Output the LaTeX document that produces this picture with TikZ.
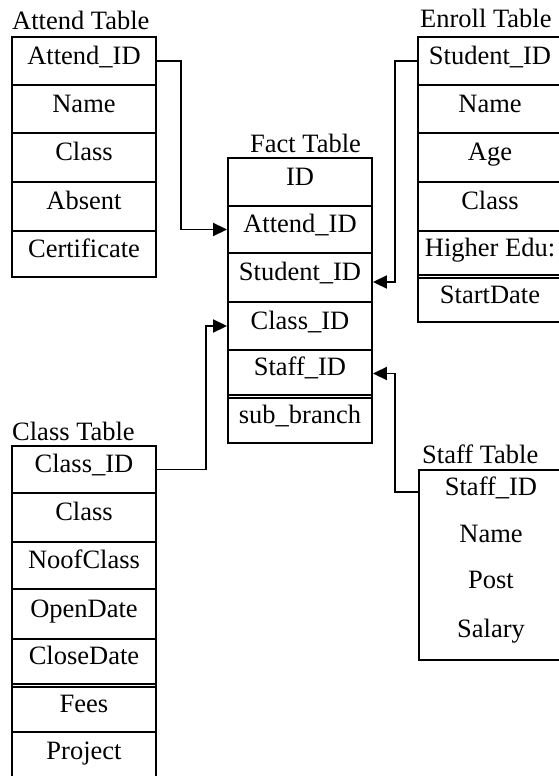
\documentclass[tikz,border=0pt]{standalone}
\usepackage{fontspec}
\setmainfont{Liberation Serif}
\usetikzlibrary{arrows.meta}
\tikzset{
  cell/.style={draw, line width=1.9pt, minimum width=144pt, inner sep=0pt, text height=15pt, text depth=9pt},
  plain/.style={minimum width=144pt, inner sep=0pt, text height=15pt, text depth=9pt},
  frame/.style={draw, line width=1.9pt},
  ttl/.style={anchor=base west, inner sep=0pt},
  link/.style={line width=1.9pt, -{Triangle[length=14pt,width=13pt]}}
}
\begin{document}
\begin{tikzpicture}[x=1pt,y=-1pt,font=\fontsize{26.5}{30}\selectfont]
\useasboundingbox (0,0) rectangle (559,776);
% Attend table
\node[ttl] (attT) at (12,30) {Attend Table};
\node[cell, minimum height=48pt] (a1) at (84,61) {Attend\_ID};
\node[cell, minimum height=48pt] (a2) at (84,109) {Name};
\node[cell, minimum height=49pt] (a3) at (84,157.5) {Class};
\node[cell, minimum height=49pt] (a4) at (84,206.5) {Absent};
\node[cell, minimum height=46pt] (a5) at (84,254) {Certificate};
% Fact table
\node[ttl] (facT) at (250,152) {Fact Table};
\node[cell, minimum height=48pt] (f1) at (300,182) {ID};
\node[cell, minimum height=47pt] (f2) at (300,229.5) {Attend\_ID};
\node[cell, minimum height=49pt] (f3) at (300,277.5) {Student\_ID};
\node[cell, minimum height=48pt] (f4) at (300,326) {Class\_ID};
\node[cell, minimum height=45pt] (f5) at (300,372.5) {Staff\_ID};
\node[cell, minimum height=45pt] (f6) at (300,420.5) {sub\_branch};
\draw[frame] (228,158) rectangle (372,443);
% Enroll table
\node[ttl] (enrT) at (420,28) {Enroll Table};
\node[cell, minimum height=48pt] (e1) at (490,61) {Student\_ID};
\node[cell, minimum height=48pt] (e2) at (490,109) {Name};
\node[cell, minimum height=49pt] (e3) at (490,157.5) {Age};
\node[cell, minimum height=49pt] (e4) at (490,206.5) {Class};
\node[cell, minimum height=44pt] (e5) at (490,253) {Higher Edu:};
\node[cell, minimum height=44pt] (e6) at (490,300) {StartDate};
\draw[frame] (418,37) rectangle (562,322);
% Class table
\node[ttl] (claT) at (12,440) {Class Table};
\node[cell, minimum height=47pt] (c1) at (84,469.5) {Class\_ID};
\node[cell, minimum height=49pt] (c2) at (84,517.5) {Class};
\node[cell, minimum height=47pt] (c3) at (84,565.5) {NoofClass};
\node[cell, minimum height=50pt] (c4) at (84,614) {OpenDate};
\node[cell, minimum height=45pt] (c5) at (84,661.5) {CloseDate};
\node[cell, minimum height=45pt] (c6) at (84,709.5) {Fees};
\node[cell, minimum height=48pt] (c7) at (84,756) {Project};
\draw[frame] (12,446) rectangle (156,790);
% Staff table
\node[ttl] (staT) at (422,463) {Staff Table};
\draw[frame] (419,470) rectangle (563,660);
\node[plain, minimum height=44pt] (s1) at (491,492) {Staff\_ID};
\node[plain, minimum height=44pt] (s2) at (491,539) {Name};
\node[plain, minimum height=44pt] (s3) at (491,585) {Post};
\node[plain, minimum height=44pt] (s4) at (491,634) {Salary};
% connectors
\draw[link] (a1.east) -- ++(24,0) |- (f2.west);
\draw[link] (e1.west) -- ++(-22,0) |- ([yshift=-4.5pt]f3.east);
\draw[link] (c1.east) -- ++(49,0) |- (f4.west);
\draw[link] (s1.west) -- ++(-24,0) |- ([yshift=-1pt]f5.east);
\end{tikzpicture}
\end{document}
